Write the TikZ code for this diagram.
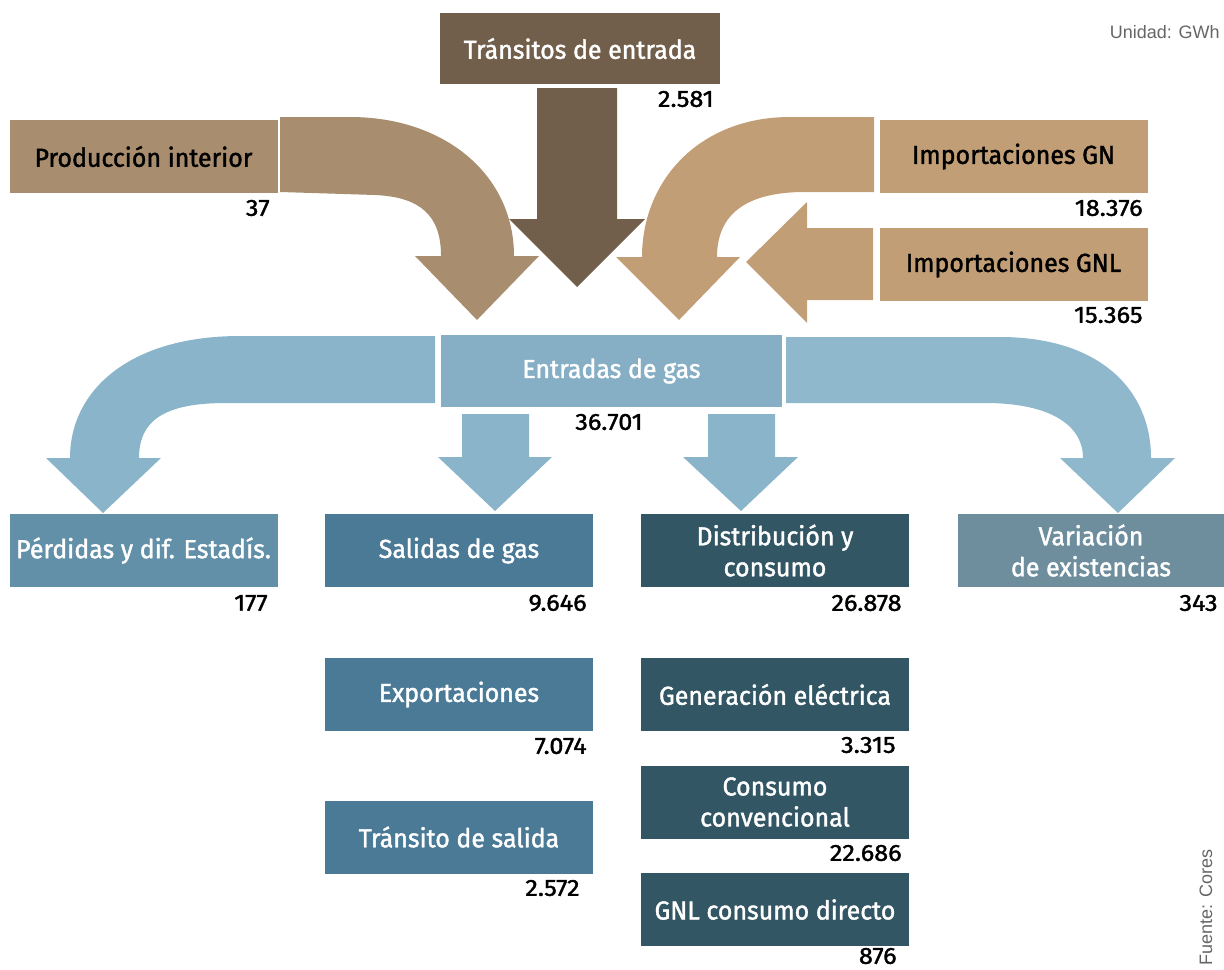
\documentclass[tikz,border=0pt]{standalone}
\usepackage{fontspec}
\setmainfont{Fira Sans}
\newfontfamily\medio{Fira Sans}[FakeBold=1.5,FakeStretch=0.96]
\newfontfamily\cifra{Fira Sans}[FakeBold=1.5,FakeStretch=1.08]
\newfontfamily\notafont{Liberation Sans}
\definecolor{transito}{HTML}{715F4B}
\definecolor{produccion}{HTML}{A88E6F}
\definecolor{importa}{HTML}{C29E77}
\definecolor{entrada}{HTML}{86AEC4}
\definecolor{flecha}{HTML}{8AB4CA}
\definecolor{perdida}{HTML}{6290A8}
\definecolor{salida}{HTML}{4A7A96}
\definecolor{consumo}{HTML}{325664}
\definecolor{variacion}{HTML}{6E8E9E}

\begin{document}
\begin{tikzpicture}[x=0.5pt,y=-0.5pt,
  caja/.style={minimum width=134pt,minimum height=36.5pt,inner sep=0pt,align=center,
    text=white,font=\medio\fontsize{13}{15.5}\selectfont},
  dato/.style={anchor=east,inner sep=0pt,font=\cifra\fontsize{11.7}{13}\selectfont}]
  \useasboundingbox (0,0) rectangle (1224,969);

  % flechas de entrada
  \fill[transito] (537,88) -- (617,88) -- (617,219) -- (645,219) -- (577,287)
    -- (509,219) -- (537,219) -- cycle;
  \fill[produccion] (280,117) -- (350,117) .. controls (445,117) and (514,175) .. (514,256)
    -- (539,256) -- (477,320) -- (415,256) -- (441,256)
    .. controls (441,215) and (420,197) .. (375,195) -- (280,192) -- cycle;
  \fill[importa] (874,117) -- (790,117) .. controls (700,117) and (642,180) .. (642,257)
    -- (616,257) -- (679,320) -- (740,257) -- (717,257)
    .. controls (717,215) and (745,192) .. (805,192) -- (874,192) -- cycle;
  \fill[importa] (873,228) -- (807,228) -- (807,202) -- (746,262) -- (807,323)
    -- (807,300) -- (873,300) -- cycle;

  % flechas de salida
  \fill[flecha] (435,336) -- (240,336) .. controls (130,336) and (70,390) .. (70,458)
    -- (46,458) -- (103,513) -- (161,458) -- (139,458)
    .. controls (139,420) and (165,403) .. (226,403) -- (435,403) -- cycle;
  \fill[flecha] (462,414) -- (529,414) -- (529,457) -- (552,457) -- (495,511)
    -- (438,457) -- (462,457) -- cycle;
  \fill[flecha] (708,414) -- (775,414) -- (775,457) -- (798,457) -- (741,511)
    -- (683,457) -- (708,457) -- cycle;
  \fill[flecha!95!white] (786,337) -- (1000,337) .. controls (1100,337) and (1151,390) .. (1151,458)
    -- (1175,458) -- (1118,513) -- (1060,458) -- (1083,458)
    .. controls (1083,425) and (1050,403) .. (985,403) -- (786,403) -- cycle;

  % cajas
  \node[caja,fill=transito,minimum width=140pt,minimum height=35.5pt] (transent) at (580,48.5) {Tránsitos de entrada};
  \node[caja,fill=produccion,text=black] (prod) at (143.5,156.5) {Producción interior};
  \node[caja,fill=importa,text=black] (impgn) at (1013.5,156.5) {Importaciones GN};
  \node[caja,fill=importa,text=black] (impgnl) at (1013.5,264.5) {Importaciones GNL};
  \node[caja,fill=entrada,minimum width=170.5pt,minimum height=36pt] (entradas) at (611.5,371) {Entradas de gas};
  \node[caja,fill=perdida] (perdidas) at (143.5,550.5) {Pérdidas y dif. Estadís.};
  \node[caja,fill=salida] (salidas) at (459,550.5) {Salidas de gas};
  \node[caja,fill=consumo] (distrib) at (775,550.5) {Distribución y\\consumo};
  \node[caja,fill=variacion,minimum width=133pt] (variacion) at (1091,550.5) {Variación\\de existencias};
  \node[caja,fill=salida] (export) at (459,694.5) {Exportaciones};
  \node[caja,fill=salida] (transal) at (459,837) {Tránsito de salida};
  \node[caja,fill=consumo] (generacion) at (775,694.5) {Generación eléctrica};
  \node[caja,fill=consumo] (convencional) at (775,802) {Consumo\\convencional};
  \node[caja,fill=consumo] (gnldirecto) at (775,909.5) {GNL consumo directo};

  % cifras
  \node[dato] (vtransent) at (714,99) {2.581};
  \node[dato] (vprod) at (270,208) {37};
  \node[dato] (vimpgn) at (1143,208) {18.376};
  \node[dato] (vimpgnl) at (1143,315) {15.365};
  \node[dato,anchor=center] (ventradas) at (609,422) {36.701};
  \node[dato] (vperdidas) at (268,603) {177};
  \node[dato] (vsalidas) at (587,603) {9.646};
  \node[dato] (vdistrib) at (902,603) {26.878};
  \node[dato] (vvariacion) at (1218,603) {343};
  \node[dato] (vexport) at (587,746) {7.074};
  \node[dato] (vgeneracion) at (896,745) {3.315};
  \node[dato] (vconvencional) at (902,853) {22.686};
  \node[dato] (vtransal) at (580,888) {2.572};
  \node[dato] (vgnldirecto) at (897,956) {876};

  \node[anchor=east,inner sep=0pt,text=black!60,font=\notafont\fontsize{9}{10}\selectfont] (unidad) at (1220,32) {Unidad: GWh};
  \node[anchor=base east,rotate=90,inner sep=0pt,text=black!60,font=\notafont\fontsize{9}{10}\selectfont] (fuente) at (1212,849) {Fuente: Cores};
\end{tikzpicture}
\end{document}
